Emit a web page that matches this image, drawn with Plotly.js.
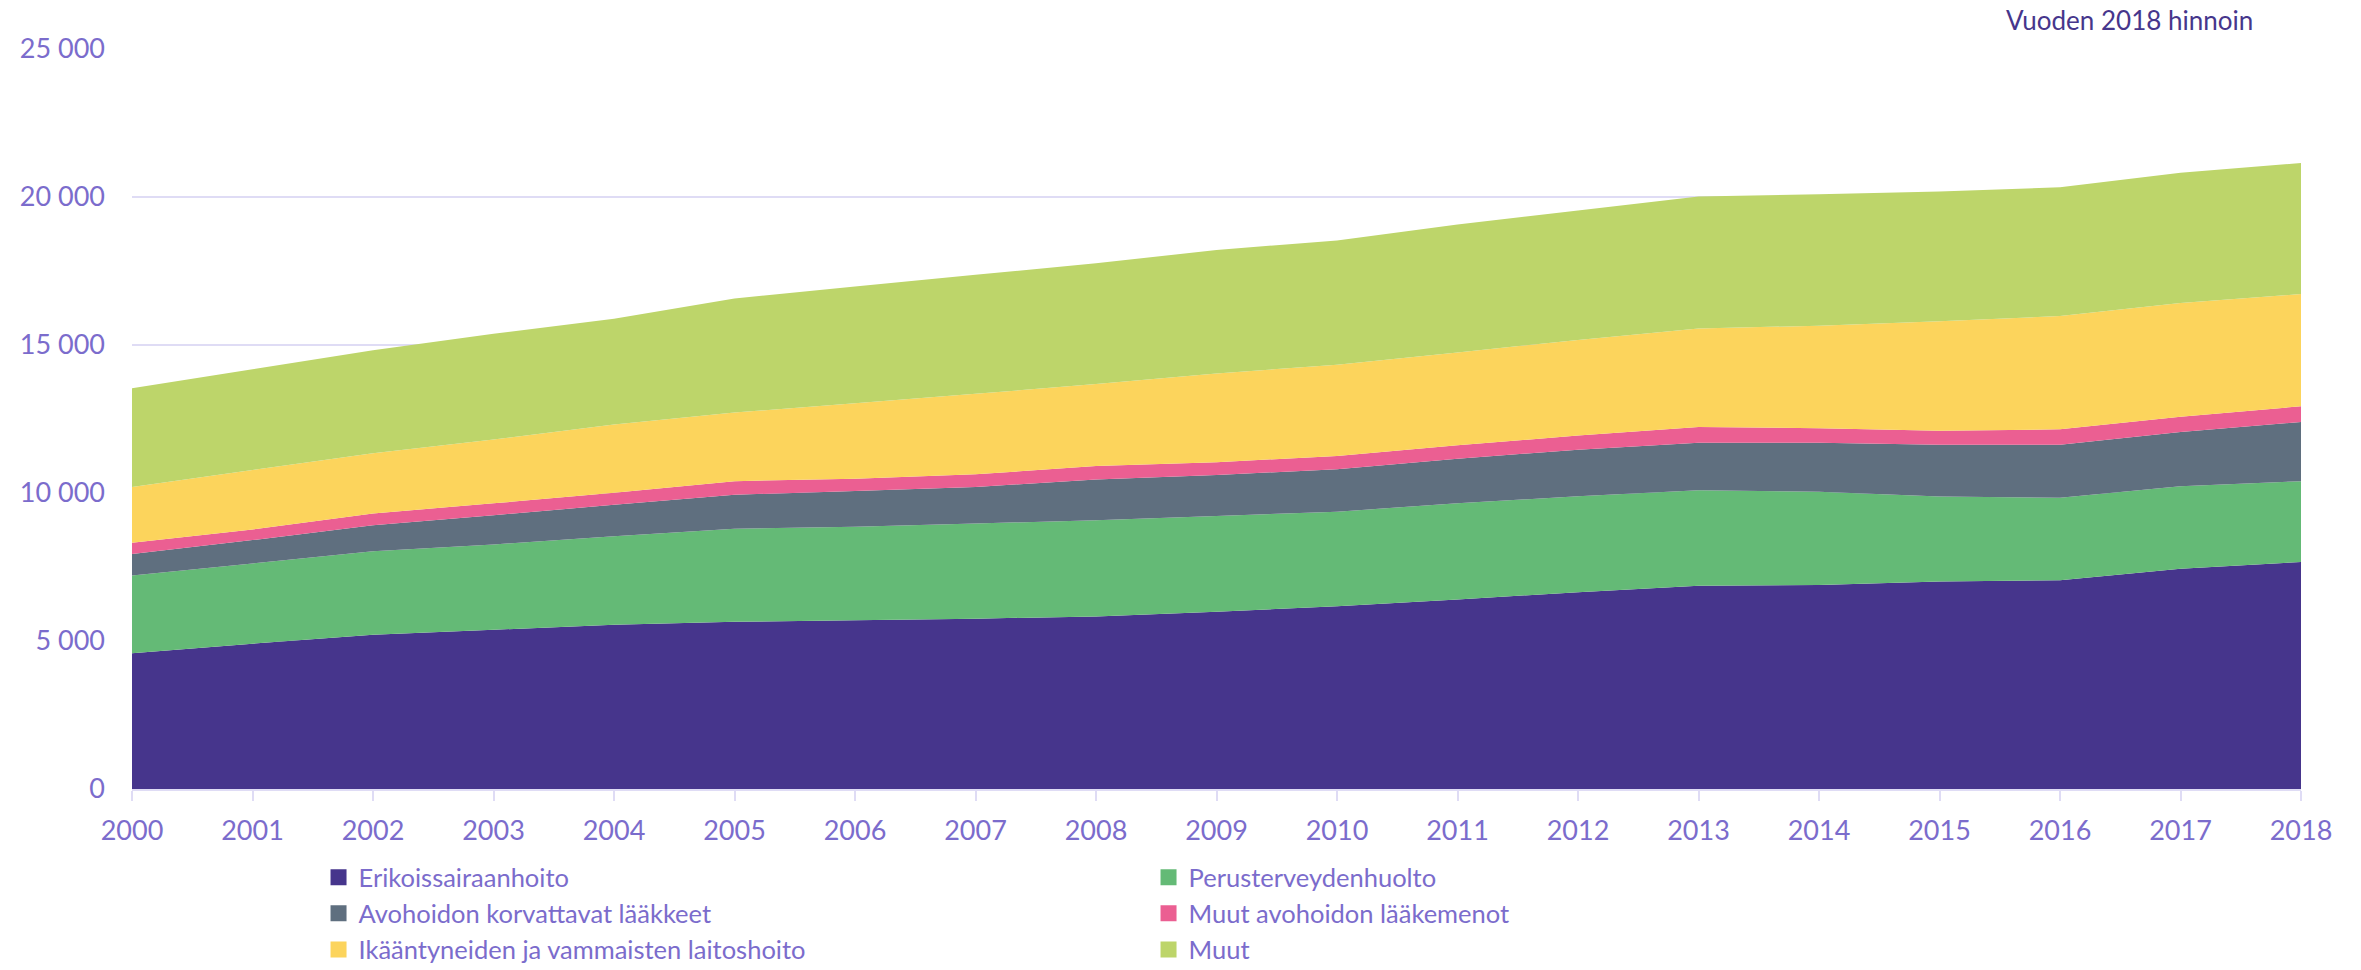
<!DOCTYPE html>
<html>
<head>
<meta charset="utf-8">
<script src="https://cdn.plot.ly/plotly-3.0.1.min.js"></script>
<style>
  html, body { margin: 0; padding: 0; background: #fff; }
  #chart { width: 2361px; height: 970px; }
</style>
</head>
<body>
<div id="chart"></div>
<script>
const years = [2000, 2001, 2002, 2003, 2004, 2005, 2006, 2007, 2008, 2009,
               2010, 2011, 2012, 2013, 2014, 2015, 2016, 2017, 2018];

// milj. euroa, vuoden 2018 hinnoin
const erikoissairaanhoito = [4590, 4910, 5210, 5380, 5550, 5650, 5700, 5755, 5830, 5990,
                             6170, 6400, 6650, 6870, 6890, 7010, 7050, 7440, 7670];
const perusterveydenhuolto = [2620, 2710, 2820, 2880, 2990, 3140, 3160, 3215, 3250, 3230,
                              3200, 3250, 3240, 3220, 3150, 2870, 2790, 2790, 2730];
const avohoidonLaakkeet = [730, 790, 880, 990, 1060, 1150, 1210, 1230, 1380, 1390,
                           1430, 1510, 1570, 1610, 1660, 1750, 1790, 1830, 2000];
const muutLaakemenot = [380, 360, 400, 400, 410, 460, 410, 430, 450, 430,
                        450, 450, 480, 530, 490, 470, 520, 520, 530];
const laitoshoito = [1880, 2010, 2030, 2160, 2300, 2320, 2550, 2720, 2770, 3000,
                     3080, 3140, 3230, 3330, 3460, 3700, 3830, 3840, 3790];
const muut = [3340, 3400, 3480, 3570, 3580, 3850, 3950, 4020, 4080, 4170,
              4200, 4320, 4370, 4460, 4440, 4390, 4350, 4400, 4430];

const seriesNames = ["Erikoissairaanhoito", "Perusterveydenhuolto",
  "Avohoidon korvattavat lääkkeet", "Muut avohoidon lääkemenot",
  "Ikääntyneiden ja vammaisten laitoshoito", "Muut"];
const seriesValues = [erikoissairaanhoito, perusterveydenhuolto, avohoidonLaakkeet,
                      muutLaakemenot, laitoshoito, muut];
const seriesColors = ["#46358c", "#64ba76", "#5f6f7f", "#eb5f92", "#fcd45c", "#bdd56a"];

const textColor = "#7b6ccc";
const gridColor = "#dfdcf5";
const font = "Lato, 'Open Sans', sans-serif";

// stacked areas
var data = seriesValues.map(function (vals, i) {
    return {
        x: years, y: vals, name: seriesNames[i],
        type: 'scatter', mode: 'none', stackgroup: 'one',
        fillcolor: seriesColors[i], line: {width: 0},
        showlegend: false, hoverinfo: 'skip'
    };
});

// square legend symbols
seriesNames.forEach(function (name, i) {
    data.push({
        x: [null], y: [null], name: name, type: 'scatter', mode: 'markers',
        marker: {symbol: 'square', size: 18, color: seriesColors[i]},
        showlegend: true
    });
});

var layout = {
    width: 2361, height: 970,
    margin: {l: 132, r: 60, t: 49, b: 181, autoexpand: false},
    paper_bgcolor: '#fff', plot_bgcolor: '#fff',
    separators: ', ',
    font: {family: font, size: 27, color: textColor},
    xaxis: {
        range: [2000, 2018], tickvals: years, ticktext: years.map(String),
        showgrid: false, zeroline: false,
        showline: true, linecolor: gridColor, linewidth: 2,
        ticks: 'outside', ticklen: 10, tickwidth: 2, tickcolor: gridColor,
        ticklabelstandoff: 7,
        tickfont: {family: font, size: 27, color: textColor}
    },
    yaxis: {
        range: [0, 25000], tickvals: [0, 5000, 10000, 15000, 20000, 25000],
        tickformat: ',d',
        showgrid: true, gridcolor: gridColor, gridwidth: 2,
        zeroline: false, showline: false,
        ticklabelstandoff: 26,
        tickfont: {family: font, size: 27, color: textColor}
    },
    legend: {
        orientation: 'h', traceorder: 'normal',
        x: 0.086, xanchor: 'left', y: -0.088, yanchor: 'top',
        entrywidth: 785, entrywidthmode: 'pixels',
        itemclick: false, itemdoubleclick: false,
        font: {family: font, size: 25.5, color: textColor}
    },
    annotations: [{
        text: 'Vuoden 2018 hinnoin', showarrow: false,
        xref: 'paper', yref: 'paper', x: 0.979, y: 1.039,
        xanchor: 'right', yanchor: 'middle',
        font: {family: font, size: 26, color: '#46368c'}
    }]
};

Plotly.newPlot('chart', data, layout, {displayModeBar: false, staticPlot: true});
</script>
</body>
</html>
